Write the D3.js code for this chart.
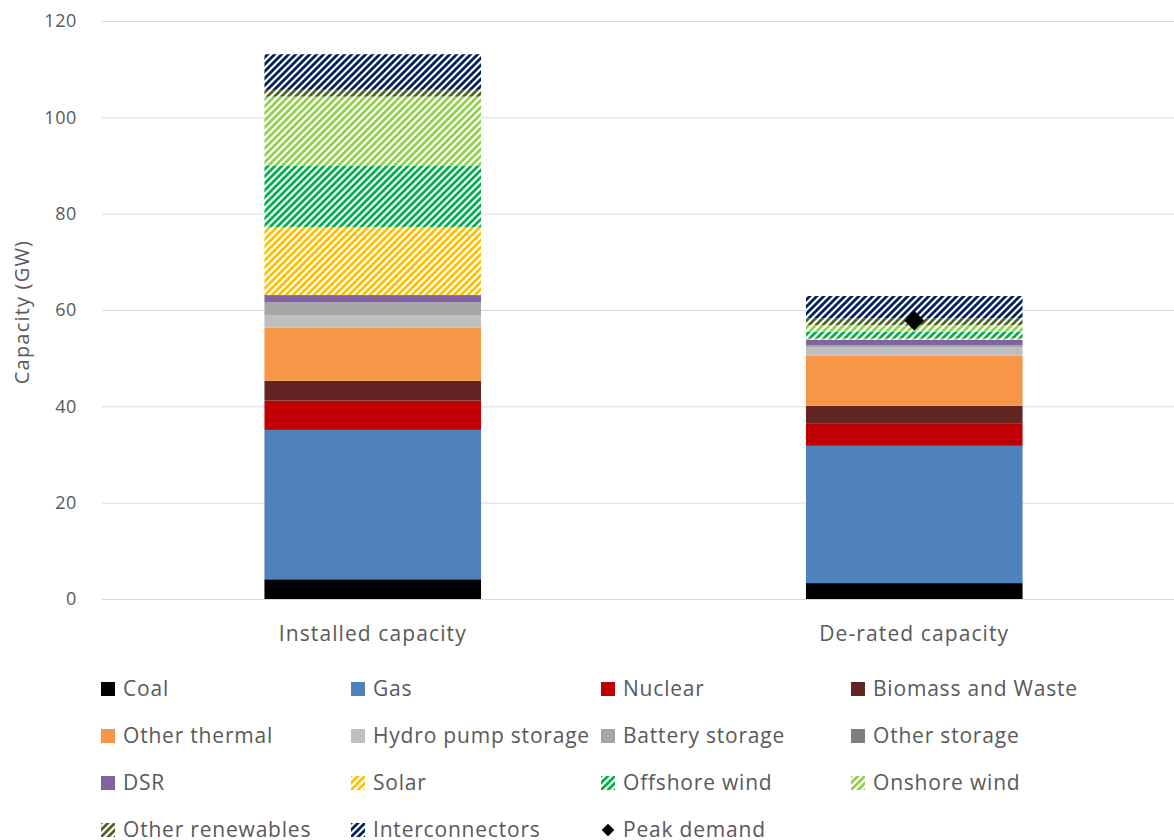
<!DOCTYPE html>
<html>
<head>
<meta charset="utf-8">
<script src="https://cdn.jsdelivr.net/npm/d3@7"></script>
<style>
  html, body { margin: 0; padding: 0; background: #fff; }
  svg text { font-family: "Open Sans", "Noto Sans", sans-serif; fill: #595959; }
</style>
</head>
<body>
<svg id="chart" width="1174" height="840"></svg>
<script>
// ---- Data ----
const categories = ["Installed capacity", "De-rated capacity"];
const seriesNames = ["Coal", "Gas", "Nuclear", "Biomass and Waste", "Other thermal",
  "Hydro pump storage", "Battery storage", "Other storage", "DSR", "Solar",
  "Offshore wind", "Onshore wind", "Other renewables", "Interconnectors"];
const coal            = [4.1, 3.3];
const gas             = [31.0, 28.5];
const nuclear         = [6.1, 4.7];
const biomass         = [4.1, 3.6];
const otherThermal    = [11.0, 10.4];
const hydroPump       = [2.6, 1.7];
const battery         = [2.7, 0.5];
const otherStorage    = [0.0, 0.0];
const dsr             = [1.5, 1.1];
const solar           = [14.1, 0.3];
const offshore        = [12.7, 1.4];
const onshore         = [14.4, 1.4];
const otherRenewables = [1.4, 1.4];
const interconnectors = [7.4, 4.6];
const peakDemand      = [null, 57.8];
const yTicks = [0, 20, 40, 60, 80, 100, 120];
const legendLabels = ["Coal", "Gas", "Nuclear", "Biomass and Waste", "Other thermal",
  "Hydro pump storage", "Battery storage", "Other storage", "DSR", "Solar",
  "Offshore wind", "Onshore wind", "Other renewables", "Interconnectors", "Peak demand"];

const seriesValues = [coal, gas, nuclear, biomass, otherThermal, hydroPump, battery,
  otherStorage, dsr, solar, offshore, onshore, otherRenewables, interconnectors];
const colors = ["#000000", "#4F81BD", "#C00000", "#632523", "#F79646", "#BFBFBF",
  "#A5A5A5", "#7F7F7F", "#8064A2", "#FFC000", "#00B050", "#92D050", "#4F6228", "#002060"];
const hatched = [false, false, false, false, false, false, false, false, false, true, true, true, true, true];

// ---- Setup ----
const svg = d3.select("#chart");
const defs = svg.append("defs");
colors.forEach((c, i) => {
  if (!hatched[i]) return;
  const p = defs.append("pattern")
    .attr("id", "hatch" + i)
    .attr("patternUnits", "userSpaceOnUse")
    .attr("width", 7).attr("height", 7);
  p.append("rect").attr("width", 7).attr("height", 7).attr("fill", "#fff");
  p.append("path")
    .attr("d", "M-2,2 L2,-2 M0,7 L7,0 M5,9 L9,5")
    .attr("stroke", c).attr("stroke-width", 2.8);
});
const fillFor = i => hatched[i] ? `url(#hatch${i})` : colors[i];

const y = d3.scaleLinear().domain([0, 120]).range([599, 21]);
const x = d3.scaleBand().domain(categories).range([102, 1185])
  .paddingInner(0.6).paddingOuter(0.3);

// gridlines
const yAxis = d3.axisLeft(y).tickValues(yTicks).tickSize(-(1174 - 102)).tickPadding(25);
const gy = svg.append("g").attr("transform", "translate(102,0)").call(yAxis);
gy.select(".domain").remove();
gy.selectAll(".tick line").attr("stroke", "#D9D9D9").attr("stroke-width", 1);
gy.selectAll(".tick text").style("font-size", "18px").style("letter-spacing", "0.6px").attr("fill", "#595959");

// stacked bars
const table = categories.map((c, j) => {
  const o = { category: c };
  seriesNames.forEach((s, i) => o[s] = seriesValues[i][j]);
  return o;
});
const stack = d3.stack().keys(seriesNames)(table);
const gBars = svg.append("g");
stack.forEach((layer, i) => {
  gBars.selectAll(null).data(layer).join("rect")
    .attr("x", d => x(d.data.category))
    .attr("width", x.bandwidth())
    .attr("y", d => y(d[1]))
    .attr("height", d => Math.max(0, y(d[0]) - y(d[1])))
    .attr("fill", fillFor(i));
});

// peak demand marker
categories.forEach((c, j) => {
  if (peakDemand[j] == null) return;
  svg.append("rect")
    .attr("x", -7).attr("y", -7).attr("width", 14).attr("height", 14)
    .attr("fill", "#000")
    .attr("transform", `translate(${x(c) + x.bandwidth() / 2},${y(peakDemand[j])}) rotate(45)`);
});

// x axis labels
const xAxis = d3.axisBottom(x).tickSize(0).tickPadding(27);
const gx = svg.append("g").attr("transform", "translate(0,599)").call(xAxis);
gx.select(".domain").remove();
gx.selectAll(".tick text").style("font-size", "21px").style("letter-spacing", "1.1px").attr("fill", "#595959");

// y axis title
svg.append("text")
  .attr("transform", "translate(22,312) rotate(-90)")
  .attr("text-anchor", "middle")
  .attr("dy", "0.35em")
  .style("font-size", "20px")
  .style("letter-spacing", "1.2px")
  .text("Capacity (GW)");

// legend
const legend = svg.append("g");
legendLabels.forEach((lab, i) => {
  const col = i % 4, row = Math.floor(i / 4);
  const lx = 101 + col * 250, ly = 689 + row * 47;
  const g = legend.append("g").attr("transform", `translate(${lx},${ly})`);
  if (i < seriesNames.length) {
    g.append("rect").attr("x", 0).attr("y", -7).attr("width", 14).attr("height", 14)
      .attr("fill", fillFor(i));
  } else {
    g.append("rect").attr("x", -4.5).attr("y", -4.5).attr("width", 9).attr("height", 9)
      .attr("fill", "#000").attr("transform", "translate(7,0) rotate(45)");
  }
  g.append("text").attr("x", 22).attr("y", 0).attr("dy", "0.35em")
    .style("font-size", "21px").style("letter-spacing", "0.8px").text(lab);
});
</script>
</body>
</html>
